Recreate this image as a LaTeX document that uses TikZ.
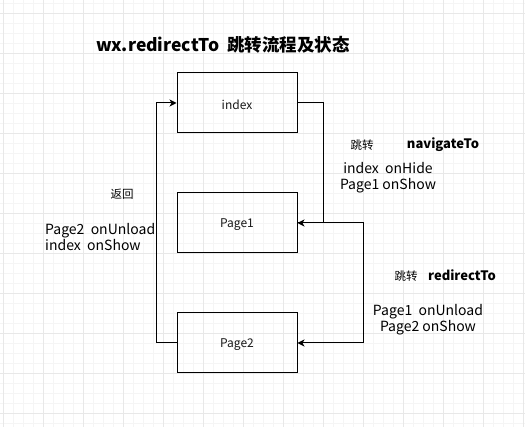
\documentclass[tikz,border=0pt]{standalone}
\usepackage{fontspec}
\setmainfont{Noto Sans CJK SC}
\usetikzlibrary{arrows.meta}
\begin{document}
\begin{tikzpicture}[x=1pt,y=-1pt,
  box/.style={draw, line width=1pt, minimum width=120pt, minimum height=60pt, inner sep=0pt, font=\fontsize{12}{14}\selectfont, text=black!90},
  boxtext/.style={inner sep=0pt, font=\fontsize{12}{14}\selectfont, text=black!90},
  conn/.style={line width=1pt, -{Stealth[length=7pt,width=7pt,inset=2pt]}},
  lbl/.style={inner sep=0pt, font=\fontsize{14}{16}\selectfont},
  small/.style={inner sep=0pt, font=\fontsize{11.5}{13}\selectfont},
  bld/.style={inner sep=0pt, font=\bfseries\fontsize{13}{15}\selectfont},
  gridminor/.style={line width=0.6pt, draw=black!4},
  gridmajor/.style={line width=0.8pt, draw=black!9}]
\path[use as bounding box] (0,0) rectangle (525,427);
\fill[white] (0,0) rectangle (525,427);
\foreach \v in {3,13,...,523} {\draw[gridminor] (\v,0) -- (\v,427);}
\foreach \v in {3,13,...,423} {\draw[gridminor] (0,\v) -- (525,\v);}
\foreach \v in {3,43,...,523} {\draw[gridmajor] (\v,0) -- (\v,427);}
\foreach \v in {13,53,...,413} {\draw[gridmajor] (0,\v) -- (525,\v);}

\node[inner sep=0pt, font=\bfseries\fontsize{17.5}{19}\selectfont] (title) at (223,45) {wx.redirectTo\ \ 跳转流程及状态};

\node[box] (index) at (237,103) {};
\node[box] (p1) at (237,223) {};
\node[box] (p2) at (237,343) {};
\node[boxtext] at ([yshift=-2pt]index.center) {index};
\node[boxtext] at ([yshift=-2pt]p1.center) {Page1};
\node[boxtext] at ([yshift=-2pt]p2.center) {Page2};

\draw[conn] (p2.west) -- ++(-20,0) |- (index.west);
\draw[conn] (index.east) -- ++(26,0) |- (p1.east);
\draw[conn] (p1.east) -- ++(66,0) |- (p2.east);

\node[small] (t1) at (362,145) {跳转};
\node[bld] (nav) at (443,145) {navigateTo};
\node[lbl, align=center] (s1) at (388,178) {index\ \ onHide\\Page1 onShow};

\node[small] (back) at (122,194) {返回};
\node[lbl, align=left, anchor=west] (s3) at (45,237) {Page2\ \ onUnload\\index\ \ onShow};

\node[small] (t2) at (406,276) {跳转};
\node[bld] (red) at (462,275) {redirectTo};
\node[lbl, align=center] (s2) at (428,320) {Page1\ \ onUnload\\Page2 onShow};
\end{tikzpicture}
\end{document}
